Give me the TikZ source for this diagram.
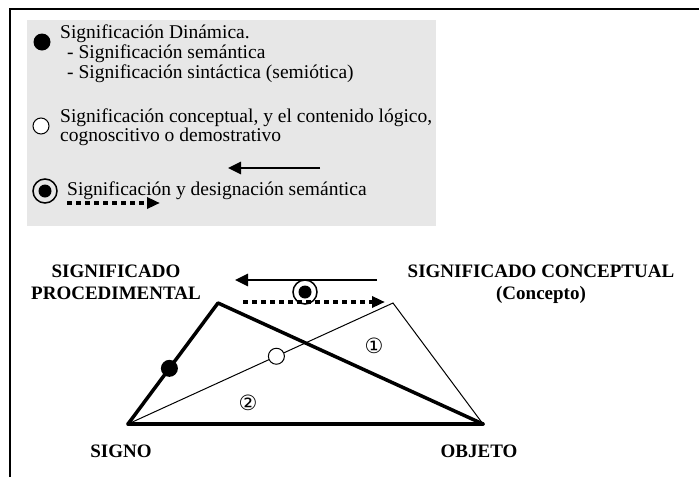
\documentclass[tikz,border=0pt]{standalone}
\usepackage{fontspec}
\setmainfont{Liberation Serif}
\newfontfamily\circfont{DejaVu Sans}
\usetikzlibrary{arrows.meta}
\definecolor{legendgray}{RGB}{231,231,231}
\begin{document}
\begin{tikzpicture}[x=1pt,y=-1pt,
  regtext/.style={font=\fontsize{19.5}{20}\selectfont, inner sep=0pt, anchor=base west},
  boldlabel/.style={font=\fontsize{19}{22}\selectfont\bfseries, inner sep=0pt, align=center, anchor=north},
  fdot/.style={circle, fill=black, inner sep=0pt, minimum size=17pt},
  odot/.style={circle, draw=black, fill=white, line width=1pt, inner sep=0pt, minimum size=16pt},
  ringdot/.style={circle, draw=black, line width=1.5pt, inner sep=0pt, minimum size=24pt,
    path picture={\fill[black] (path picture bounding box.center) circle (6.5pt);}},
  solidarrow/.style={line width=2.6pt, -{Triangle[length=13pt,width=12pt]}},
  dasharrow/.style={line width=4pt, dash pattern=on 5pt off 4pt, -{Triangle[length=13pt,width=11pt]}},
  thickline/.style={line width=3.5pt, line cap=round, line join=round},
  thinline/.style={line width=1pt, line join=miter},
  circnum/.style={font=\circfont\fontsize{21}{21}\selectfont, inner sep=0pt}
]
\useasboundingbox (0,0) rectangle (699,477);
% frame
\draw[line width=2pt] (10,477) -- (10,9) -- (699,9);
% legend box
\fill[legendgray] (27,20) rectangle (436,226);
\node[fdot] (l1) at (42,42) {};
\node[regtext] (t1) at (60,38) {Significación Dinámica.};
\node[regtext] (t2) at (67,58) {- Significación semántica};
\node[regtext] (t3) at (67,78) {- Significación sintáctica (semiótica)};
\node[odot] (l2) at (41,126) {};
\node[regtext] (t4) at (60,122) {Significación conceptual, y el contenido lógico,};
\node[regtext] (t5) at (60,141) {cognoscitivo o demostrativo};
\coordinate (la1) at (320,168);
\coordinate (la2) at (228,168);
\draw[solidarrow] (la1) -- (la2);
\node[ringdot] (l3) at (45,191) {};
\node[regtext] (t6) at (67,195) {Significación y designación semántica};
\coordinate (lb1) at (67,203);
\coordinate (lb2) at (160,203);
\draw[dasharrow] (lb1) -- (lb2);
% diagram
\coordinate (S) at (128,424);
\coordinate (P) at (218,303);
\coordinate (C) at (393,303);
\coordinate (O) at (483,424);
\draw[thinline] (S) -- (C) -- (O);
\draw[thickline] (S) -- (P) -- (O);
\draw[thickline] (S) -- (O);
\path (S) -- (P) node[fdot, pos=0.46] (d1) {};
\path (S) -- (C) node[odot, pos=0.56] (d2) {};
\node[circnum] (n1) at (374,346) {①};
\node[circnum] (n2) at (248,403) {②};
\coordinate (a1) at (377,280);
\coordinate (a2) at (235,280);
\draw[solidarrow] (a1) -- (a2);
\coordinate (b1) at (243,302);
\coordinate (b2) at (385,302);
\draw[dasharrow] (b1) -- (b2);
\node[ringdot] (r) at (305,292) {};
% labels
\node[boldlabel] (lp) at (116,265) {SIGNIFICADO\\PROCEDIMENTAL};
\node[boldlabel] (lc) at (541,265) {SIGNIFICADO CONCEPTUAL\\(Concepto)};
\node[boldlabel] (ls) at (121,445) {SIGNO};
\node[boldlabel] (lo) at (479,445) {OBJETO};
\end{tikzpicture}
\end{document}
